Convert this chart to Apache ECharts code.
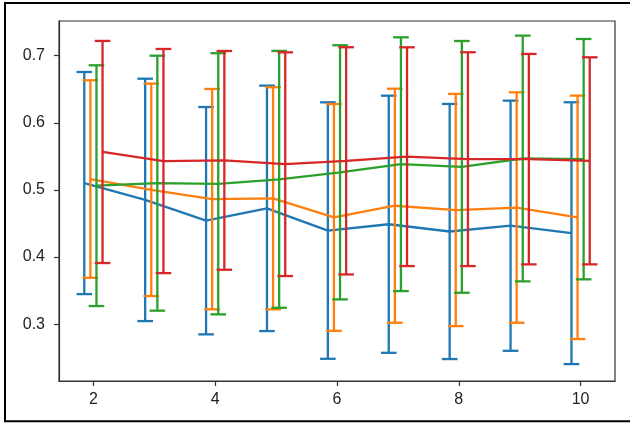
<!DOCTYPE html>
<html>
<head>
<meta charset="utf-8">
<script src="https://cdn.jsdelivr.net/npm/echarts@6/dist/echarts.min.js"></script>
<style>
  html, body { margin: 0; padding: 0; background: #fff; }
  #chart { width: 630px; height: 423px; }
</style>
</head>
<body>
<div id="chart"></div>
<script>
// Window sizes on the x axis
const xs = [2, 3, 4, 5, 6, 7, 8, 9, 10];

// Mean score and half-width of the error bar for each series
const blueMean   = [0.5102, 0.4851, 0.4541, 0.4725, 0.4394, 0.4488, 0.4380, 0.4466, 0.4355];
const blueErr    = [0.1655, 0.1806, 0.1694, 0.1829, 0.1911, 0.1916, 0.1901, 0.1864, 0.1951];
const orangeMean = [0.5162, 0.5001, 0.4862, 0.4875, 0.4590, 0.4764, 0.4700, 0.4737, 0.4591];
const orangeErr  = [0.1472, 0.1583, 0.1642, 0.1655, 0.1690, 0.1744, 0.1730, 0.1717, 0.1814];
const greenMean  = [0.5063, 0.5100, 0.5091, 0.5157, 0.5262, 0.5383, 0.5343, 0.5468, 0.5458];
const greenErr   = [0.1794, 0.1900, 0.1946, 0.1914, 0.1894, 0.1891, 0.1876, 0.1831, 0.1791];
const redMean    = [0.5565, 0.5430, 0.5440, 0.5383, 0.5433, 0.5495, 0.5458, 0.5458, 0.5433];
const redErr     = [0.1655, 0.1670, 0.1630, 0.1667, 0.1693, 0.1630, 0.1593, 0.1568, 0.1543];

// Horizontal shift of each series so the bars do not overlap
const dodge = [-0.15, -0.05, 0.05, 0.15];

const xTicks = [2, 4, 6, 8, 10];
const yTicks = [0.3, 0.4, 0.5, 0.6, 0.7];

const seriesDefs = [
  { mean: blueMean,   err: blueErr,   color: '#1f77b4' },
  { mean: orangeMean, err: orangeErr, color: '#ff7f0e' },
  { mean: greenMean,  err: greenErr,  color: '#2ca02c' },
  { mean: redMean,    err: redErr,    color: '#d62728' }
];

const CAP = 7.8;
const LW = 2.3;

function errorBarRender(color) {
  return function (params, api) {
    const x = api.value(0);
    const lo = api.coord([x, api.value(1)]);
    const hi = api.coord([x, api.value(2)]);
    const style = { stroke: color, lineWidth: LW, fill: null };
    return {
      type: 'group',
      children: [
        { type: 'line', shape: { x1: lo[0], y1: lo[1], x2: hi[0], y2: hi[1] }, style },
        { type: 'line', shape: { x1: hi[0] - CAP, y1: hi[1], x2: hi[0] + CAP, y2: hi[1] }, style },
        { type: 'line', shape: { x1: lo[0] - CAP, y1: lo[1], x2: lo[0] + CAP, y2: lo[1] }, style }
      ]
    };
  };
}

const series = [];
seriesDefs.forEach((s, k) => {
  const barData = xs.map((x, i) => [x + dodge[k], s.mean[i] - s.err[i], s.mean[i] + s.err[i]]);
  const lineData = xs.map((x, i) => [x + dodge[k], s.mean[i]]);
  series.push({
    type: 'custom',
    renderItem: errorBarRender(s.color),
    data: barData,
    encode: { x: 0, y: [1, 2] },
    z: 2 + k * 2,
    silent: true,
    animation: false
  });
  series.push({
    type: 'line',
    data: lineData,
    showSymbol: false,
    symbol: 'none',
    lineStyle: { color: s.color, width: LW },
    itemStyle: { color: s.color },
    z: 3 + k * 2,
    silent: true,
    animation: false
  });
});

const axisFont = { fontFamily: 'Liberation Sans', fontSize: 16, color: '#222' };

const chart = echarts.init(document.getElementById('chart'), null, { renderer: 'canvas' });
chart.setOption({
  animation: false,
  backgroundColor: '#fff',
  grid: {
    left: 59, right: 15, top: 21, bottom: 42,
    show: true, borderColor: '#333', borderWidth: 1.2, backgroundColor: 'transparent'
  },
  xAxis: {
    type: 'value',
    min: 1.435, max: 10.565,
    splitLine: { show: false },
    axisLine: { show: true, lineStyle: { color: '#333', width: 1.2 } },
    axisTick: { show: true, length: 5, lineStyle: { color: '#333', width: 1.2 }, customValues: xTicks },
    axisLabel: Object.assign({ margin: 11, customValues: xTicks, formatter: v => String(v) }, axisFont)
  },
  yAxis: {
    type: 'value',
    min: 0.2152, max: 0.7517,
    splitLine: { show: false },
    axisLine: { show: true, lineStyle: { color: '#333', width: 1.2 } },
    axisTick: { show: true, length: 5, lineStyle: { color: '#333', width: 1.2 }, customValues: yTicks },
    axisLabel: Object.assign({ margin: 14, customValues: yTicks, formatter: v => v.toFixed(1) }, axisFont)
  },
  graphic: [
    {
      type: 'polyline',
      shape: { points: [[630, 3], [5, 3], [5, 421.3], [630, 421.3]] },
      style: { stroke: '#000', lineWidth: 2, fill: null },
      z: 100
    }
  ],
  series: series
});
</script>
</body>
</html>
